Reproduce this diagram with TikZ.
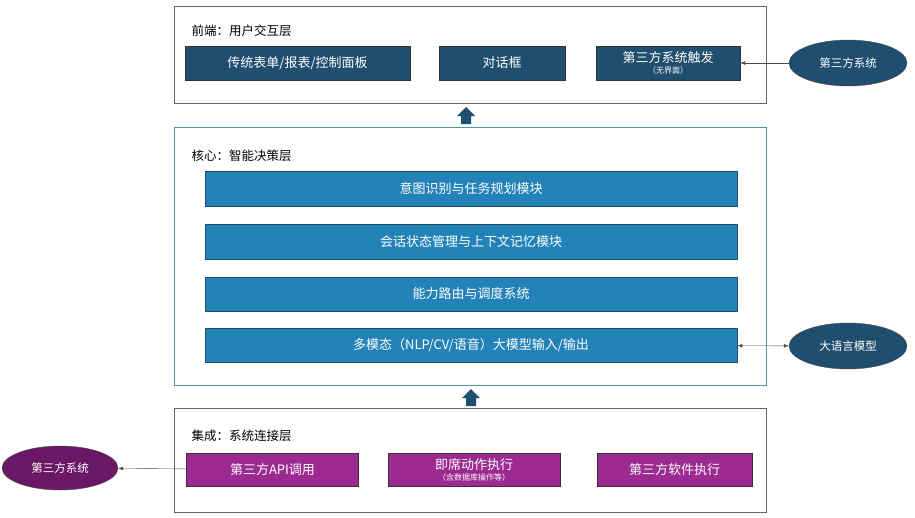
\documentclass[tikz,border=0pt]{standalone}
\usepackage{fontspec}
\setmainfont{Noto Sans CJK SC}
\usetikzlibrary{shapes.geometric,arrows.meta}
\definecolor{navy}{HTML}{1F4E6E}
\definecolor{sky}{HTML}{2383B8}
\definecolor{plum}{HTML}{9C2A90}
\definecolor{plumdark}{HTML}{6A1866}
\definecolor{frameteal}{HTML}{4F9A98}
\tikzset{
  layer/.style={draw=gray!80!black,line width=1pt},
  navybox/.style={draw=black!80,fill=navy,text=white,font=\fontsize{13}{14}\selectfont,align=center,inner sep=0pt},
  skybox/.style={draw=navy,line width=.8pt,fill=sky,text=white,font=\fontsize{13}{14}\selectfont,inner sep=0pt},
  plumbox/.style={draw=black!80,fill=plum,text=white,font=\fontsize{13}{14}\selectfont,align=center,inner sep=0pt},
  sysell/.style={ellipse,draw=black!70,text=white,font=\fontsize{11.5}{12}\selectfont,minimum width=118pt,minimum height=46pt},
  title/.style={anchor=west,font=\fontsize{12.5}{14}\selectfont},
  uparrow/.style={fill=navy,draw=none},
}
\begin{document}
\begin{tikzpicture}[x=1pt,y=-1pt]
  \useasboundingbox[fill=white] (0,0) rectangle (915,517);
  % front end
  \draw[layer] (174,6) rectangle (766,103);
  \node[title] (ftitle) at (188,31) {前端：用户交互层};
  \node[navybox,minimum width=225pt,minimum height=34pt] (forms) at (297.5,63) {传统表单/报表/控制面板};
  \node[navybox,minimum width=126pt,minimum height=34pt] (dialog) at (502,63) {对话框};
  \node[navybox,minimum width=144pt,minimum height=34pt] (trigger) at (668,63) {第三方系统触发\\[-3pt]{\fontsize{8}{9}\selectfont（无界面）}};
  \node[sysell,fill=navy] (extsys) at (848,63) {第三方系统};
  \draw[-{Latex[length=5pt]},black!70] (extsys) -- (trigger);
  % up arrows
  \fill[uparrow] (461,124) -- (461,116) -- (457,116) -- (466,107) -- (475,116) -- (471,116) -- (471,124) -- cycle;
  \fill[uparrow] (466,406) -- (466,398) -- (462,398) -- (471,389) -- (480,398) -- (476,398) -- (476,406) -- cycle;
  % core
  \draw[draw=frameteal,line width=1pt] (174,127) rectangle (766,385);
  \node[title] (ctitle) at (188,156) {核心：智能决策层};
  \node[skybox,minimum width=532pt,minimum height=35pt] (intent) at (471,188.5) {意图识别与任务规划模块};
  \node[skybox,minimum width=532pt,minimum height=35pt] (session) at (471,241.5) {会话状态管理与上下文记忆模块};
  \node[skybox,minimum width=532pt,minimum height=34pt] (route) at (471,294) {能力路由与调度系统};
  \node[skybox,minimum width=532pt,minimum height=34pt] (multi) at (471,345) {多模态（NLP/CV/语音）大模型输入/输出};
  \node[sysell,fill=navy] (llm) at (848,346) {大语言模型};
  \draw[{Latex[length=5pt]}-{Latex[length=5pt]},black!70] (multi) -- (llm);
  % integration
  \draw[layer] (174,408) rectangle (766,512);
  \node[title] (ititle) at (188,436) {集成：系统连接层};
  \node[plumbox,minimum width=172pt,minimum height=33pt] (api) at (272.5,469.5) {第三方API调用};
  \node[plumbox,minimum width=172pt,minimum height=33pt] (adhoc) at (474,469.5) {即席动作执行\\[-3pt]{\fontsize{8}{9}\selectfont（含数据库操作等）}};
  \node[plumbox,minimum width=155pt,minimum height=33pt] (soft) at (674.5,469.5) {第三方软件执行};
  \node[sysell,fill=plumdark,minimum width=116pt,minimum height=44pt] (extsys2) at (60,468) {第三方系统};
  \draw[-{Latex[length=5pt]},black!70] (api) -- (extsys2);
\end{tikzpicture}
\end{document}
